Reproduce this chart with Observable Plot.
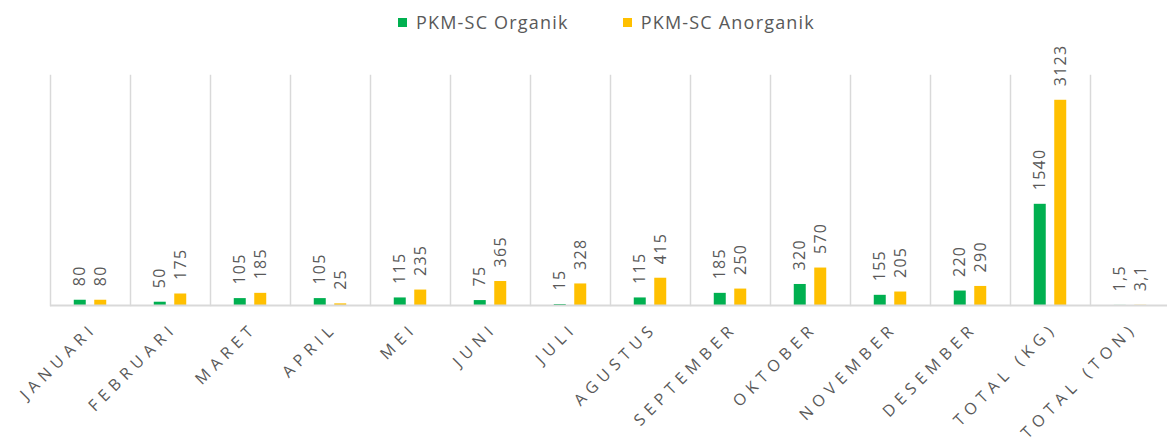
<!DOCTYPE html>
<html><head><meta charset="utf-8">
<script src="https://cdn.jsdelivr.net/npm/d3@7"></script>
<script src="https://cdn.jsdelivr.net/npm/@observablehq/plot@0.6"></script>
<style>
html,body{margin:0;padding:0;background:#fff;overflow:hidden;width:1167px;height:446px}
#legend{height:44px;display:flex;align-items:center;justify-content:center;width:1171px;padding-left:42px;box-sizing:border-box;font-family:"Open Sans";font-size:18px;letter-spacing:1.2px;color:#595959}
.item{display:flex;align-items:center;margin:0 27px}
.sw{width:9px;height:9px;margin-right:9px}
#chart svg{overflow:hidden;display:block}
g[aria-label="text"] text{letter-spacing:1.3px}
g.catlbl text{letter-spacing:5.5px}
</style></head><body><div id="legend"></div><div id="chart"></div>
<script>
const categories = ["JANUARI","FEBRUARI","MARET","APRIL","MEI","JUNI","JULI","AGUSTUS","SEPTEMBER","OKTOBER","NOVEMBER","DESEMBER","TOTAL (KG)","TOTAL (TON)"];
const organik = [80, 50, 105, 105, 115, 75, 15, 115, 185, 320, 155, 220, 1540, 1.5];
const anorganik = [80, 175, 185, 25, 235, 365, 328, 415, 250, 570, 205, 290, 3123, 3.1];
const seriesNames = ["PKM-SC Organik", "PKM-SC Anorganik"];
const colors = ["#00B050", "#FFC000"];
const yMax = 3500;

const data = categories.flatMap((c, i) => [
  {cat: c, series: seriesNames[0], value: organik[i]},
  {cat: c, series: seriesNames[1], value: anorganik[i]}
]);
const fmt = v => String(v).replace(".", ",");

const legend = document.getElementById("legend");
seriesNames.forEach((s, i) => {
  const it = document.createElement("div");
  it.className = "item";
  it.innerHTML = `<div class="sw" style="background:${colors[i]}"></div><span>${s}</span>`;
  legend.appendChild(it);
});

const chart = Plot.plot({
  width: 1167, height: 402,
  marginLeft: 48, marginRight: -4, marginTop: 31, marginBottom: 141,
  style: {fontFamily: "Open Sans", color: "#595959", background: "transparent"},
  fx: {domain: categories, padding: 0, axis: null},
  x: {domain: seriesNames, paddingInner: 0.415, paddingOuter: 1.16, axis: null, round: false},
  y: {domain: [0, yMax], axis: null},
  color: {domain: seriesNames, range: colors},
  marks: [
    Plot.frame({anchor: "left", stroke: "#d9d9d9", strokeWidth: 1.5}),
    Plot.barY(data, {fx: "cat", x: "series", y: "value", fill: "series"}),
    Plot.ruleY([0], {stroke: "#d9d9d9", strokeWidth: 2}),
    Plot.text(data, {fx: "cat", x: "series", y: "value", text: d => fmt(d.value), rotate: -90, textAnchor: "start", dy: -14, fontSize: 16, fill: "#595959"}),
    Plot.text(categories, {fx: d => d, text: d => d, frameAnchor: "bottom", rotate: -45, textAnchor: "end", lineAnchor: "middle", dx: 4, dy: 20, fontSize: 16, fill: "#595959", className: "catlbl"})
  ]
});
document.getElementById("chart").appendChild(chart);
</script></body></html>
